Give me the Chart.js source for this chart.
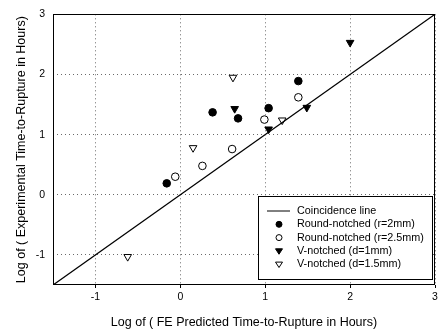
<!DOCTYPE html>
<html>
<head>
<meta charset="utf-8">
<script src="https://cdn.jsdelivr.net/npm/chart.js@4/dist/chart.umd.min.js"></script>
<style>
  html, body { margin: 0; padding: 0; background: #fff; }
  #wrap { width: 445px; height: 333px; }
</style>
</head>
<body>
<div id="wrap"><canvas id="c" width="445" height="333"></canvas></div>
<script>
// Axis range and tick values (log10 of hours)
const axisMin = -1.5;
const axisMax = 3;
const tickValues = [-1, 0, 1, 2, 3];

// Coincidence line end points (predicted = experimental)
const coincidenceLine = [-1.5, 3];

// Round-notched, r = 2 mm
const roundR2X = [-0.16, 0.38, 0.68, 1.04, 1.39];
const roundR2Y = [0.19, 1.37, 1.27, 1.44, 1.89];

// Round-notched, r = 2.5 mm
const roundR25X = [-0.06, 0.26, 0.61, 0.99, 1.39];
const roundR25Y = [0.30, 0.48, 0.76, 1.25, 1.62];

// V-notched, d = 1 mm
const vD1X = [0.64, 1.04, 1.49, 2.00];
const vD1Y = [1.43, 1.09, 1.45, 2.53];

// V-notched, d = 1.5 mm
const vD15X = [-0.62, 0.15, 0.62, 1.20];
const vD15Y = [-1.03, 0.78, 1.95, 1.24];

const legendLabels = [
  'Coincidence line',
  'Round-notched (r=2mm)',
  'Round-notched (r=2.5mm)',
  'V-notched (d=1mm)',
  'V-notched (d=1.5mm)'
];

const FONT = '"Liberation Sans", Arial, Helvetica, sans-serif';

function toPoints(xs, ys) {
  return xs.map((x, i) => ({ x: x, y: ys[i] }));
}

// Frame around the plotting area
const framePlugin = {
  id: 'frame',
  afterDatasetsDraw(chart) {
    const a = chart.chartArea;
    const ctx = chart.ctx;
    ctx.save();
    ctx.strokeStyle = '#000';
    ctx.lineWidth = 1;
    ctx.strokeRect(Math.round(a.left) + 0.5, Math.round(a.top) + 0.5,
                   Math.round(a.right - a.left) - 1, Math.round(a.bottom - a.top) - 1);
    ctx.restore();
  }
};

// Boxed legend in the lower right corner of the plot
const insetLegend = {
  id: 'insetLegend',
  afterDraw(chart) {
    const a = chart.chartArea;
    const ctx = chart.ctx;
    const boxW = 174, boxH = 83;
    const right = a.right - 3, bottom = a.bottom - 6;
    const left = right - boxW, top = bottom - boxH;
    ctx.save();
    ctx.fillStyle = '#fff';
    ctx.fillRect(left, top, boxW, boxH);
    ctx.strokeStyle = '#000';
    ctx.lineWidth = 1;
    ctx.strokeRect(Math.round(left) + 0.5, Math.round(top) + 0.5, boxW, boxH);
    ctx.font = '10.8px ' + FONT;
    ctx.textBaseline = 'middle';
    const symX = left + 21;
    const textX = left + 39;
    chart.data.datasets.forEach((ds, i) => {
      const y = top + 15 + i * 13.3;
      ctx.strokeStyle = '#000';
      ctx.lineWidth = 1;
      if (ds.showLine) {
        ctx.beginPath();
        ctx.moveTo(left + 9, y);
        ctx.lineTo(left + 32, y);
        ctx.stroke();
      } else {
        ctx.fillStyle = ds.backgroundColor;
        ctx.beginPath();
        if (ds.pointStyle === 'circle') {
          ctx.arc(symX, y, 3, 0, Math.PI * 2);
        } else {
          const r = 3.5;
          ctx.moveTo(symX - r, y - r * 0.6);
          ctx.lineTo(symX + r, y - r * 0.6);
          ctx.lineTo(symX, y + r * 0.95);
          ctx.closePath();
        }
        ctx.fill();
        ctx.stroke();
      }
      ctx.fillStyle = '#000';
      ctx.fillText(ds.label, textX, y);
    });
    ctx.restore();
  }
};

const markerBase = {
  type: 'scatter',
  borderColor: '#000',
  borderWidth: 1,
  pointRadius: 3.8,
  pointHoverRadius: 3.8
};

const gridStyle = {
  color: '#6a6a6a',
  lineWidth: 1
};

new Chart(document.getElementById('c'), {
  type: 'scatter',
  data: {
    datasets: [
      {
        type: 'line',
        label: legendLabels[0],
        data: toPoints(coincidenceLine, coincidenceLine),
        showLine: true,
        borderColor: '#000',
        borderWidth: 1.3,
        pointRadius: 0,
        fill: false
      },
      Object.assign({}, markerBase, {
        label: legendLabels[1],
        data: toPoints(roundR2X, roundR2Y),
        pointStyle: 'circle',
        backgroundColor: '#000',
        pointBackgroundColor: '#000'
      }),
      Object.assign({}, markerBase, {
        label: legendLabels[2],
        data: toPoints(roundR25X, roundR25Y),
        pointStyle: 'circle',
        backgroundColor: '#fff',
        pointBackgroundColor: '#fff'
      }),
      Object.assign({}, markerBase, {
        label: legendLabels[3],
        data: toPoints(vD1X, vD1Y),
        pointStyle: 'triangle',
        pointRotation: 180,
        pointRadius: 4.4,
        backgroundColor: '#000',
        pointBackgroundColor: '#000'
      }),
      Object.assign({}, markerBase, {
        label: legendLabels[4],
        data: toPoints(vD15X, vD15Y),
        pointStyle: 'triangle',
        pointRotation: 180,
        pointRadius: 4.4,
        backgroundColor: '#fff',
        pointBackgroundColor: '#fff'
      })
    ]
  },
  options: {
    responsive: false,
    animation: false,
    devicePixelRatio: 1,
    layout: { padding: { left: 0, right: 10, top: 12, bottom: 0 } },
    plugins: {
      legend: { display: false },
      tooltip: { enabled: false }
    },
    scales: {
      x: {
        type: 'linear',
        min: axisMin,
        max: axisMax,
        afterBuildTicks(scale) { scale.ticks = tickValues.map(v => ({ value: v })); },
        afterFit(scale) { scale.height = 48; },
        grid: Object.assign({}, gridStyle, {
          drawTicks: true,
          tickLength: 3,
          tickColor: '#000',
          tickBorderDash: [0]
        }),
        // dash applies to the grid lines; the solid frame is drawn separately
        border: { display: false, dash: [1, 3] },
        ticks: {
          color: '#000',
          padding: 3,
          maxRotation: 0,
          font: { family: FONT, size: 10.5 }
        },
        title: {
          display: true,
          text: 'Log of ( FE Predicted Time-to-Rupture in Hours)',
          color: '#000',
          font: { family: FONT, size: 12.5 },
          padding: { top: 0, bottom: 3 }
        }
      },
      y: {
        type: 'linear',
        min: axisMin,
        max: axisMax,
        afterBuildTicks(scale) { scale.ticks = tickValues.map(v => ({ value: v })); },
        afterFit(scale) { scale.width = 53; },
        grid: Object.assign({}, gridStyle, { drawTicks: false }),
        border: { display: false, dash: [1, 3] },
        ticks: {
          color: '#000',
          padding: 8,
          font: { family: FONT, size: 10.5 }
        },
        title: {
          display: true,
          text: 'Log of ( Experimental Time-to-Rupture in Hours)',
          color: '#000',
          font: { family: FONT, size: 12.5 },
          padding: { top: 14, bottom: 0 }
        }
      }
    }
  },
  plugins: [framePlugin, insetLegend]
});
</script>
</body>
</html>
